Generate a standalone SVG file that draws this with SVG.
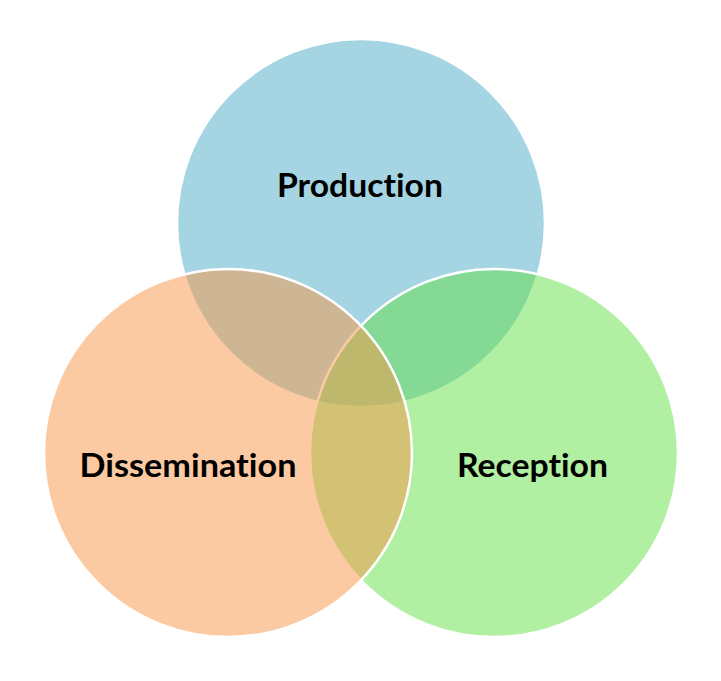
<svg xmlns="http://www.w3.org/2000/svg" width="721" height="681" viewBox="0 0 721 681">
<style>
.c{fill-opacity:0.5;stroke:#fff;stroke-width:2.5}
.t{font-family:Lato,"Open Sans","Liberation Sans",sans-serif;font-weight:bold;font-size:32px;fill:#000;text-anchor:middle;font-variant-ligatures:none;font-feature-settings:"liga" 0}
</style>
<rect width="721" height="681" fill="#fff"/>
<g id="production">
<circle class="c" cx="361" cy="223" r="184" fill="#4BACC6"/>
</g>
<g id="reception">
<circle class="c" cx="494" cy="453" r="184" fill="#63E047"/>
</g>
<g id="dissemination">
<circle class="c" cx="228" cy="453" r="184" fill="#F79646"/>
</g>
<g id="labels">
<text class="t" x="360" y="197" textLength="166" lengthAdjust="spacingAndGlyphs">Production</text>
<text class="t" x="188" y="477" textLength="217" lengthAdjust="spacingAndGlyphs">Dissemination</text>
<text class="t" x="532.5" y="477" textLength="151" lengthAdjust="spacingAndGlyphs">Reception</text>
</g>
<g id="connectors"/>
</svg>
